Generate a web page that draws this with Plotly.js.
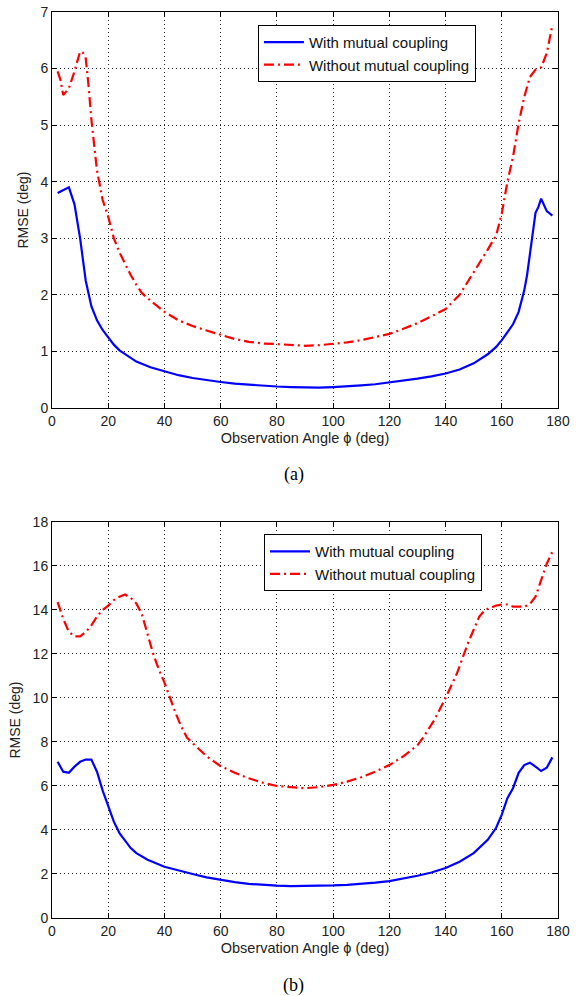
<!DOCTYPE html>
<html>
<head>
<meta charset="utf-8">
<script src="https://cdn.plot.ly/plotly-3.0.1.min.js"></script>
<style>html,body{margin:0;padding:0;background:#fff;}#chart{width:581px;height:996px;}</style>
</head>
<body>
<div id="chart"></div>
<script>
// ---- Panel (a) ----
const aWithX = [2,4,6,8,10,12,14,16,18,20,22,24,26,28,30,35,40,45,50,55,60,65,70,75,80,85,90,95,100,105,110,115,120,125,130,135,140,145,150,155,158,160,162,164,166,168,169,170,171,172,173,174,176,178];
const aWithY = [3.80,3.85,3.90,3.60,3.00,2.25,1.80,1.55,1.38,1.25,1.12,1.02,0.95,0.88,0.82,0.72,0.65,0.58,0.53,0.49,0.46,0.43,0.41,0.39,0.38,0.37,0.36,0.36,0.37,0.38,0.40,0.42,0.45,0.48,0.52,0.56,0.61,0.68,0.79,0.95,1.08,1.20,1.33,1.48,1.70,2.08,2.35,2.70,3.10,3.45,3.55,3.70,3.48,3.40];
const aWithoutX = [2,3,4,6,8,10,11,12,13,14,16,18,20,22,24,26,28,30,32,35,40,45,50,55,60,65,70,75,80,85,90,95,100,105,110,115,120,125,130,135,140,145,150,153,155,158,160,162,164,166,168,170,172,174,176,178];
const aWithoutY = [5.95,5.80,5.53,5.65,5.95,6.30,6.28,6.18,5.70,5.10,4.20,3.68,3.38,3.00,2.75,2.55,2.35,2.18,2.03,1.90,1.70,1.55,1.45,1.37,1.29,1.22,1.17,1.14,1.13,1.11,1.10,1.11,1.13,1.16,1.20,1.25,1.31,1.40,1.50,1.62,1.75,2.00,2.40,2.62,2.80,3.05,3.44,4.00,4.44,5.03,5.50,5.85,5.98,6.02,6.27,6.77];

// ---- Panel (b) ----
const bWithX = [2,4,6,8,10,12,14,16,18,20,22,24,26,28,30,34,40,45,50,55,60,65,70,75,80,85,90,95,100,105,110,115,120,125,130,135,140,145,150,155,158,160,162,164,166,168,170,172,174,176,178];
const bWithY = [7.10,6.65,6.60,6.88,7.10,7.20,7.20,6.65,5.80,5.06,4.38,3.86,3.50,3.18,2.95,2.65,2.33,2.15,2.00,1.85,1.73,1.63,1.55,1.50,1.47,1.45,1.45,1.46,1.48,1.51,1.55,1.61,1.68,1.79,1.92,2.07,2.27,2.56,2.95,3.55,4.10,4.70,5.45,5.90,6.60,6.95,7.06,6.88,6.68,6.83,7.30];
const bWithoutX = [2,4,6,8,10,12,14,16,18,20,22,24,26,28,30,32,34,36,38,40,42,44,46,48,50,55,60,65,70,75,80,85,90,95,100,105,110,115,120,125,130,132,136,140,144,148,150,152,154,156,158,160,162,164,166,168,170,172,174,176,178];
const bWithoutY = [14.36,13.60,13.00,12.80,12.80,13.00,13.30,13.70,14.00,14.20,14.45,14.60,14.70,14.55,14.30,13.80,12.90,12.00,11.30,10.70,10.00,9.30,8.70,8.20,7.95,7.35,6.90,6.60,6.35,6.15,6.00,5.95,5.90,5.95,6.05,6.20,6.40,6.65,6.95,7.35,7.85,8.20,9.00,10.00,11.10,12.50,13.10,13.70,14.00,14.10,14.20,14.25,14.25,14.15,14.15,14.15,14.27,14.60,15.36,16.10,16.65];

const xTicks = [0,20,40,60,80,100,120,140,160,180];
const aYTicks = [0,1,2,3,4,5,6,7];
const bYTicks = [0,2,4,6,8,10,12,14,16,18];
const seriesNames = ['With mutual coupling', 'Without mutual coupling'];
const captions = ['(a)', '(b)'];
const xTitle = 'Observation Angle \u03d5 (deg)';
const yTitle = 'RMSE (deg)';

const blue = '#0000ff';
const red = '#ff0000';
const redDash = '10px,4px,2px,4px';

const traces = [
  {x: aWithX, y: aWithY, xaxis: 'x', yaxis: 'y', name: seriesNames[0], mode: 'lines',
   line: {color: blue, width: 2.2}, legend: 'legend'},
  {x: aWithoutX, y: aWithoutY, xaxis: 'x', yaxis: 'y', name: seriesNames[1], mode: 'lines',
   line: {color: red, width: 2.2, dash: redDash}, legend: 'legend'},
  {x: bWithX, y: bWithY, xaxis: 'x2', yaxis: 'y2', name: seriesNames[0], mode: 'lines',
   line: {color: blue, width: 2.2}, legend: 'legend2'},
  {x: bWithoutX, y: bWithoutY, xaxis: 'x2', yaxis: 'y2', name: seriesNames[1], mode: 'lines',
   line: {color: red, width: 2.2, dash: redDash}, legend: 'legend2'}
];

const fontFam = 'Liberation Sans, Arial, sans-serif';
function xax(anchor) {
  return {
    anchor: anchor, domain: [0, 1], range: [0, 180], tickvals: xTicks,
    ticks: 'inside', ticklen: 5, tickcolor: '#000', showline: true, linecolor: '#000', linewidth: 1,
    mirror: 'ticks', showgrid: true, gridcolor: '#222', griddash: '1px,3px', gridwidth: 1,
    zeroline: false, tickfont: {family: fontFam, size: 14, color: '#222'},
    title: {text: xTitle, font: {family: fontFam, size: 14.5, color: '#222'}, standoff: 5}
  };
}
function yax(anchor, domain, range, ticks) {
  return {
    anchor: anchor, domain: domain, range: range, tickvals: ticks,
    ticks: 'inside', ticklen: 5, tickcolor: '#000', showline: true, linecolor: '#000', linewidth: 1,
    mirror: 'ticks', showgrid: true, gridcolor: '#222', griddash: '1px,3px', gridwidth: 1,
    zeroline: false, tickfont: {family: fontFam, size: 14, color: '#222'},
    title: {text: yTitle, font: {family: fontFam, size: 14, color: '#222'}, standoff: 8}
  };
}
const legendStyle = {
  xref: 'paper', yref: 'paper', xanchor: 'left', yanchor: 'top',
  bgcolor: '#fff', bordercolor: '#000', borderwidth: 1,
  font: {family: fontFam, size: 15, color: '#111'}, tracegroupgap: 0, itemwidth: 40
};

const layout = {
  width: 581, height: 996,
  margin: {l: 52, r: 23, t: 12, b: 78},
  paper_bgcolor: '#fff', plot_bgcolor: '#fff',
  showlegend: true,
  xaxis: xax('y'),
  yaxis: yax('x', [0.5629, 1], [0, 7], aYTicks),
  xaxis2: xax('y2'),
  yaxis2: yax('x2', [0, 0.4371], [0, 18], bYTicks),
  legend: Object.assign({}, legendStyle, {x: 0.407, y: 0.9857}),
  legend2: Object.assign({}, legendStyle, {x: 0.419, y: 0.4238}),
  annotations: [
    {text: captions[0], xref: 'paper', yref: 'paper', x: 0.478, y: 0.489, xanchor: 'center', yanchor: 'middle',
     showarrow: false, font: {family: 'Liberation Serif, Times New Roman, serif', size: 18, color: '#000'}},
    {text: captions[1], xref: 'paper', yref: 'paper', x: 0.478, y: -0.074, xanchor: 'center', yanchor: 'middle',
     showarrow: false, font: {family: 'Liberation Serif, Times New Roman, serif', size: 18, color: '#000'}}
  ]
};

Plotly.newPlot('chart', traces, layout, {displayModeBar: false, staticPlot: true});
</script>
</body>
</html>
